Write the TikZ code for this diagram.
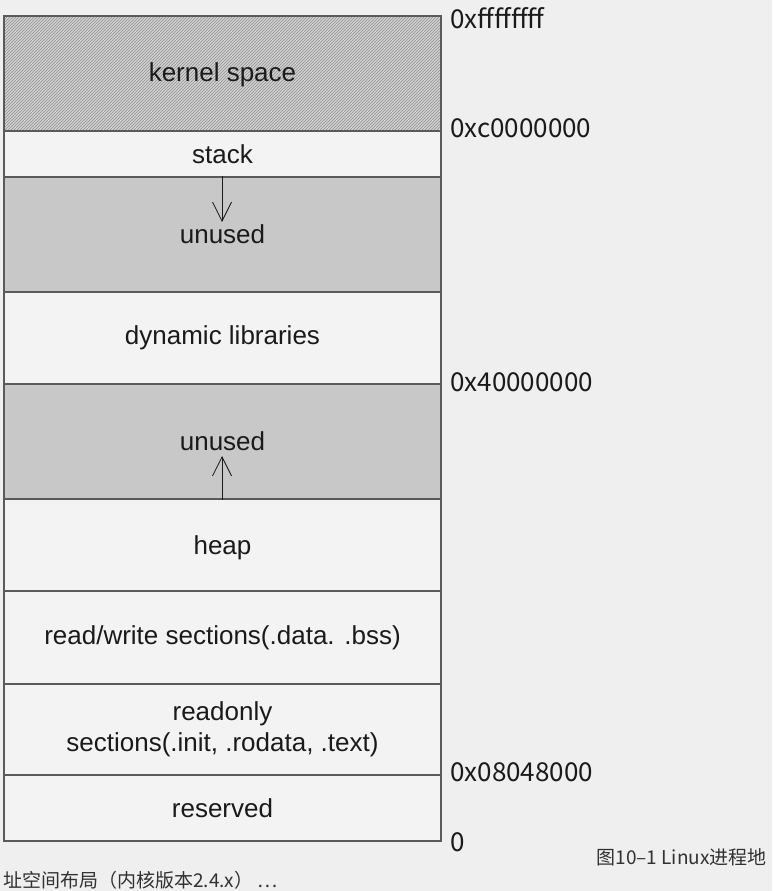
\documentclass[tikz,border=0pt]{standalone}
\usepackage{fontspec}
\setmainfont{Liberation Sans}
\newfontfamily\cjk{Noto Sans CJK SC}
\usetikzlibrary{patterns,arrows.meta}
\definecolor{bg}{HTML}{EFEFEF}
\definecolor{boxw}{HTML}{F3F3F3}
\definecolor{unusedc}{HTML}{C8C8C8}
\definecolor{kfill}{HTML}{D2D2D2}
\definecolor{kline}{HTML}{909090}
\definecolor{edge}{HTML}{5A5A5A}
\definecolor{ink}{HTML}{1A1A1A}
\tikzset{
  sect/.style={draw=edge, line width=1.1pt, minimum width=437pt, inner sep=0pt,
    text=ink, font=\fontsize{26}{31}\selectfont, align=center},
  wbox/.style={sect, fill=boxw},
  gbox/.style={sect, fill=unusedc},
  addr/.style={anchor=west, inner sep=0pt, text=ink, font=\cjk\fontsize{26}{30}\selectfont},
  capt/.style={inner sep=0pt, text=ink!90, font=\cjk\fontsize{19}{24}\selectfont},
  growarrow/.style={draw=ink, line width=0.8pt, -{Straight Barb[length=19pt,width=19pt,line width=0.8pt]}}
}
\begin{document}
\begin{tikzpicture}[x=1pt,y=-1pt]
\fill[bg] (0,0) rectangle (772,891);
\useasboundingbox (0,0) rectangle (772,891);
% kernel space (hatched)
\node[sect, fill=kfill, minimum height=115pt] (ks) at (222.5,73.5) {};
\fill[pattern=north east lines, pattern color=kline] (ks.south west) rectangle (ks.north east);
\node[sect, minimum height=115pt] (ksl) at (222.5,73.5) {};
\node[text=ink, font=\fontsize{26}{31}\selectfont, inner sep=0pt] (kst) at (222.5,75) {kernel space};
\node[wbox, minimum height=46pt] (stack) at (222.5,154) {stack};
\node[gbox, minimum height=115pt] (un1) at (222.5,234.5) {unused};
\node[wbox, minimum height=92pt] (dyn) at (222.5,338) {dynamic libraries};
\node[gbox, minimum height=115pt] (un2) at (222.5,441.5) {unused};
\node[wbox, minimum height=92pt] (heap) at (222.5,545) {};
\node[text=ink, font=\fontsize{26}{31}\selectfont, inner sep=0pt] (hpt) at (222.5,547.5) {heap};
\node[wbox, minimum height=93pt] (rw) at (222.5,637.5) {read/write sections(.data. .bss)};
\node[wbox, minimum height=91pt] (ro) at (222.5,729.5) {readonly\\sections(.init, .rodata, .text)};
\node[wbox, minimum height=66pt] (res) at (222.5,808) {reserved};
% growth arrows
\coordinate (t1) at (222,222);
\coordinate (t2) at (222,456);
\draw[growarrow] (un1.north -| t1) -- (t1);
\draw[growarrow] (un2.south -| t2) -- (t2);
% addresses
\node[addr] (a1) at (450,18) {0xffffffff};
\node[addr] (a2) at (450,128) {0xc0000000};
\node[addr] (a3) at (450,382) {0x40000000};
\node[addr] (a4) at (450,772) {0x08048000};
\node[addr] (a5) at (450,842) {0};
% caption
\node[capt, anchor=east] (c1) at (767,857) {图10–1 Linux进程地};
\node[capt, anchor=west] (c2) at (3,880) {址空间布局（内核版本2.4.x） …};
\end{tikzpicture}
\end{document}
